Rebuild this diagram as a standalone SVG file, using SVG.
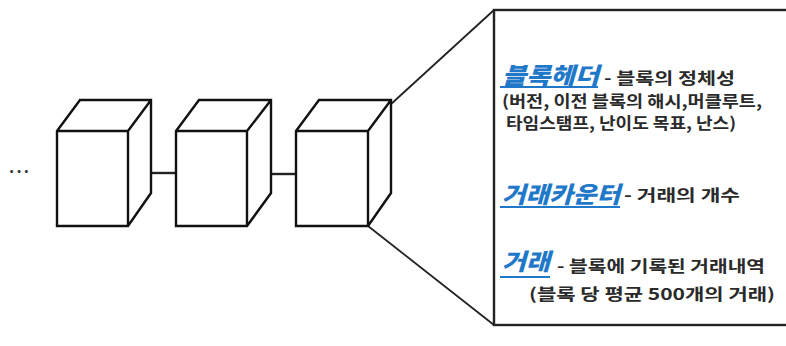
<svg xmlns="http://www.w3.org/2000/svg" width="786" height="346" viewBox="0 0 786 346">
<style>
.cube{fill:#fff;stroke:#111;stroke-width:2.4;stroke-linejoin:miter}
.conn{stroke:#222;stroke-width:2.4;fill:none}
.zoom{stroke:#222;stroke-width:1.8;fill:none}
.k{font-family:"Noto Sans CJK KR","Noto Sans",sans-serif;font-weight:bold}
.title{fill:#1f78c8;font-style:italic;font-size:23px;font-weight:900}
.desc{fill:#2a2a2a;font-size:16px}
.ul{stroke:#1f78c8;stroke-width:2}
</style>
<rect width="786" height="346" fill="#fff"/>
<text x="9" y="173" class="k" font-size="16" fill="#333" textLength="20" lengthAdjust="spacing">...</text>
<g id="connectors">
<line class="conn" x1="146" y1="173" x2="176" y2="173"/>
<line class="conn" x1="266" y1="174" x2="296" y2="174"/>
<line class="zoom" x1="390" y1="105" x2="494" y2="10"/>
<line class="zoom" x1="368" y1="226" x2="494" y2="325"/>
</g>
<g id="block1">
<path class="cube" d="M57,131 L80,100 L151,100 L151,193 L128,226 L57,226 Z M57,131 L128,131 L151,100 M128,131 L128,226"/>
</g>
<g id="block2">
<path class="cube" d="M176,131 L199,100 L271,100 L271,193 L247,226 L176,226 Z M176,131 L247,131 L271,100 M247,131 L247,226"/>
</g>
<g id="block3">
<path class="cube" d="M296,131 L319,100 L391,100 L391,193 L368,226 L296,226 Z M296,131 L368,131 L391,100 M368,131 L368,226"/>
</g>
<g id="detail">
<rect x="494" y="10" width="320" height="315" fill="#fff" stroke="#222" stroke-width="2.4"/>
<text class="k title" x="502" y="84" textLength="97" lengthAdjust="spacingAndGlyphs">블록헤더</text>
<line class="ul" x1="500" y1="87" x2="598" y2="87"/>
<text class="k desc" x="604" y="84" font-size="17" textLength="131" lengthAdjust="spacingAndGlyphs">- 블록의 정체성</text>
<text class="k desc" x="502" y="107" font-size="15" textLength="260" lengthAdjust="spacingAndGlyphs">(버전, 이전 블록의 해시,머클루트,</text>
<text class="k desc" x="506" y="129" font-size="15" textLength="230" lengthAdjust="spacingAndGlyphs">타임스탬프, 난이도 목표, 난스)</text>
<text class="k title" x="502" y="203" textLength="118" lengthAdjust="spacingAndGlyphs">거래카운터</text>
<line class="ul" x1="500" y1="207" x2="620" y2="207"/>
<text class="k desc" x="624" y="201" textLength="116" lengthAdjust="spacingAndGlyphs">- 거래의 개수</text>
<text class="k title" x="502" y="270" textLength="48" lengthAdjust="spacingAndGlyphs">거래</text>
<line class="ul" x1="500" y1="277" x2="550" y2="277"/>
<text class="k desc" x="557" y="272" font-size="17" textLength="208" lengthAdjust="spacingAndGlyphs">- 블록에 기록된 거래내역</text>
<text class="k desc" x="529" y="300" font-size="19" textLength="246" lengthAdjust="spacingAndGlyphs">(블록 당 평균 500개의 거래)</text>
</g>
</svg>
